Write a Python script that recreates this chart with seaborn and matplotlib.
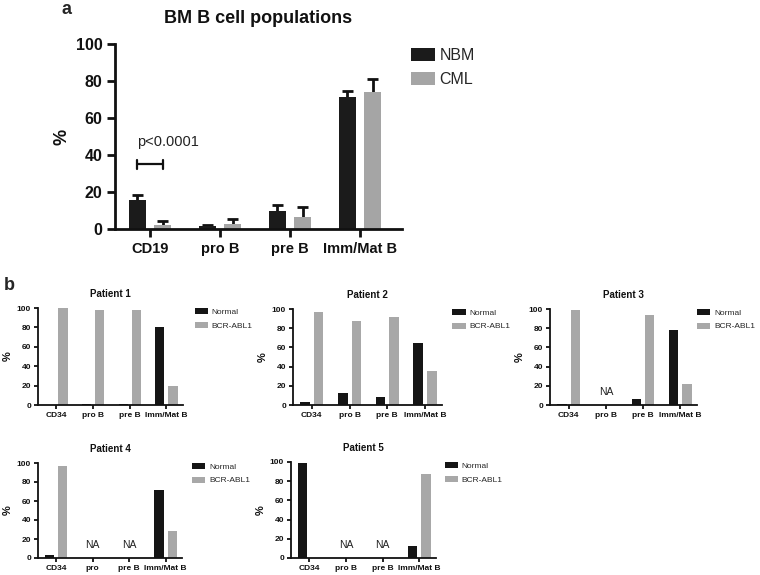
import numpy as np
import pandas as pd
import matplotlib
matplotlib.use("Agg")
import matplotlib.pyplot as plt
import seaborn as sns
from matplotlib.patches import Patch

sns.set_theme(style="ticks")
plt.rcParams["font.family"] = ["Liberation Sans", "DejaVu Sans"]

# ---------------- Panel a data ----------------
a_categories = ["CD19", "pro B", "pre B", "Imm/Mat B"]
a_groups = ["NBM", "CML"]
nbm_mean = [15.7, 1.5, 9.9, 71.2]
nbm_err = [2.7, 0.9, 3.1, 3.2]
cml_mean = [2.2, 2.5, 6.3, 73.9]
cml_err = [2.3, 2.7, 5.7, 7.0]
a_colors = ["#1b1b1b", "#a5a5a5"]
p_text = "p<0.0001"
p_level = 35

# ---------------- Panel b data ----------------
b_groups = ["Normal", "BCR-ABL1"]
b_colors = ["#151515", "#a8a8a8"]
nan = np.nan
p1_labels = ["CD34", "pro B", "pre B", "Imm/Mat B"]
p1_normal = [0, 1.5, 1.5, 80]
p1_bcr = [100, 98, 98, 20]
p2_labels = ["CD34", "pro B", "pre B", "Imm/Mat B"]
p2_normal = [3, 12, 8, 65]
p2_bcr = [97, 88, 92, 35]
p3_labels = ["CD34", "pro B", "pre B", "Imm/Mat B"]
p3_normal = [1, nan, 6, 78]
p3_bcr = [99, nan, 94, 22]
p4_labels = ["CD34", "pro", "pre B", "Imm/Mat B"]
p4_normal = [3, nan, nan, 72]
p4_bcr = [97, nan, nan, 28]
p5_labels = ["CD34", "pro B", "pre B", "Imm/Mat B"]
p5_normal = [99, nan, nan, 12]
p5_bcr = [0.5, nan, nan, 88]
patient_titles = ["Patient 1", "Patient 2", "Patient 3", "Patient 4", "Patient 5"]

W, H = 760, 575
fig = plt.figure(figsize=(W / 100, H / 100), dpi=100)


def rect(x0, x1, ytop, ybot):
    return [x0 / W, 1 - ybot / H, (x1 - x0) / W, (ybot - ytop) / H]


# ---------------- Panel a ----------------
ax = fig.add_axes(rect(115, 402, 44, 229))
df_a = pd.DataFrame({
    "cat": a_categories * 2,
    "group": [a_groups[0]] * 4 + [a_groups[1]] * 4,
    "value": nbm_mean + cml_mean,
})
sns.barplot(data=df_a, x="cat", y="value", hue="group", order=a_categories,
            hue_order=a_groups, palette=a_colors, width=0.72, gap=0.3,
            errorbar=None, linewidth=0, saturation=1, ax=ax, legend=False)
errs = [nbm_err, cml_err]
means = [nbm_mean, cml_mean]
bar_conts = list(ax.containers)
centers = []
for ci, cont in enumerate(bar_conts):
    xs = np.array([b.get_x() + b.get_width() / 2 for b in cont.patches])
    centers.append(xs)
cap_half = 0.075
for ci, xs in enumerate(centers):
    m = np.array(means[ci])
    top = m + np.array(errs[ci])
    ax.vlines(xs, m, top, color="#111111", lw=2, zorder=0.5)
    ax.hlines(top, xs - cap_half, xs + cap_half, color="#111111", lw=2, zorder=0.5)
ax.set_ylim(0, 100)
ax.set_xlim(-0.5, 3.6)
ax.set_yticks([0, 20, 40, 60, 80, 100])
sns.despine(ax=ax)
for s in ["left", "bottom"]:
    ax.spines[s].set_linewidth(2)
    ax.spines[s].set_color("#111111")
ax.tick_params(axis="both", width=2, length=6, color="#111111", pad=3)
ax.tick_params(axis="x", labelsize=10.5)
ax.tick_params(axis="y", labelsize=11.5)
for t in ax.get_xticklabels() + ax.get_yticklabels():
    t.set_fontweight("bold")
    t.set_color("#111111")
ax.set_xlabel("")
ax.set_ylabel("%", fontsize=13, fontweight="bold", labelpad=4, color="#111111")
ax.set_title("BM B cell populations", fontsize=13, fontweight="bold", pad=15, color="#111111")
# p-value bracket between CD19 bars
x0, x1 = centers[0][0], centers[1][0]
ax.plot([x0, x1], [p_level, p_level], color="#111111", lw=1.6)
ax.plot([x0, x0], [p_level - 2.5, p_level + 2.5], color="#111111", lw=1.6)
ax.plot([x1, x1], [p_level - 2.5, p_level + 2.5], color="#111111", lw=1.6)
ax.text(x0, p_level + 8, p_text, fontsize=10.5, color="#222222", ha="left", va="bottom")
handles = [Patch(facecolor=c, edgecolor="none") for c in a_colors]
ax.legend(handles, a_groups, loc="upper left", bbox_to_anchor=(1.03, 0.98),
          frameon=False, fontsize=11.5, handlelength=1.5, handleheight=0.9,
          handletextpad=0.3, labelspacing=0.55, borderpad=0, borderaxespad=0)
fig.text(62 / W, 1 - 10 / H, "a", fontsize=13, fontweight="bold", ha="left", va="center")
fig.text(4 / W, 1 - 285 / H, "b", fontsize=13, fontweight="bold", ha="left", va="center")

# ---------------- Panel b ----------------
b_rects = [
    rect(38, 183, 308, 405),
    rect(293, 442, 309, 405),
    rect(550, 697, 309, 405),
    rect(38, 182, 463, 558),
    rect(291, 436, 462, 558),
]
b_leg_x = [1.08, 1.07, 1.0, 1.07, 1.06]
all_labels = [p1_labels, p2_labels, p3_labels, p4_labels, p5_labels]
all_normal = [p1_normal, p2_normal, p3_normal, p4_normal, p5_normal]
all_bcr = [p1_bcr, p2_bcr, p3_bcr, p4_bcr, p5_bcr]

for i in range(5):
    bx = fig.add_axes(b_rects[i])
    labels = all_labels[i]
    df = pd.DataFrame({
        "cat": labels * 2,
        "group": [b_groups[0]] * 4 + [b_groups[1]] * 4,
        "value": list(all_normal[i]) + list(all_bcr[i]),
    })
    sns.barplot(data=df, x="cat", y="value", hue="group", order=labels,
                hue_order=b_groups, palette=b_colors, width=0.72, gap=0.3,
                errorbar=None, linewidth=0, saturation=1, ax=bx, legend=False)
    bx.set_ylim(0, 100)
    bx.set_xlim(-0.5, 3.45)
    bx.set_yticks([0, 20, 40, 60, 80, 100])
    sns.despine(ax=bx)
    for s in ["left", "bottom"]:
        bx.spines[s].set_linewidth(1.3)
        bx.spines[s].set_color("#111111")
    bx.tick_params(axis="both", width=1.3, length=3, color="#111111", labelsize=6, pad=2)
    for t in bx.get_xticklabels() + bx.get_yticklabels():
        t.set_fontweight("bold")
        t.set_color("#111111")
    bx.set_xlabel("")
    bx.set_ylabel("%", fontsize=8, fontweight="bold", labelpad=3, color="#111111")
    bx.set_title(patient_titles[i], fontsize=7, fontweight="bold", pad=8, color="#111111")
    for j, v in enumerate(all_normal[i]):
        if np.isnan(v) and np.isnan(all_bcr[i][j]):
            bx.text(j, 13.5, "NA", fontsize=7.5, ha="center", va="center", color="#222222")
    hb = [Patch(facecolor=c, edgecolor="none") for c in b_colors]
    bx.legend(hb, b_groups, loc="upper left", bbox_to_anchor=(b_leg_x[i], 1.0),
              frameon=False, fontsize=6, handlelength=1.6, handleheight=0.7,
              handletextpad=0.45, labelspacing=0.7, borderpad=0, borderaxespad=0)

fig.savefig("out.png", dpi=100)
